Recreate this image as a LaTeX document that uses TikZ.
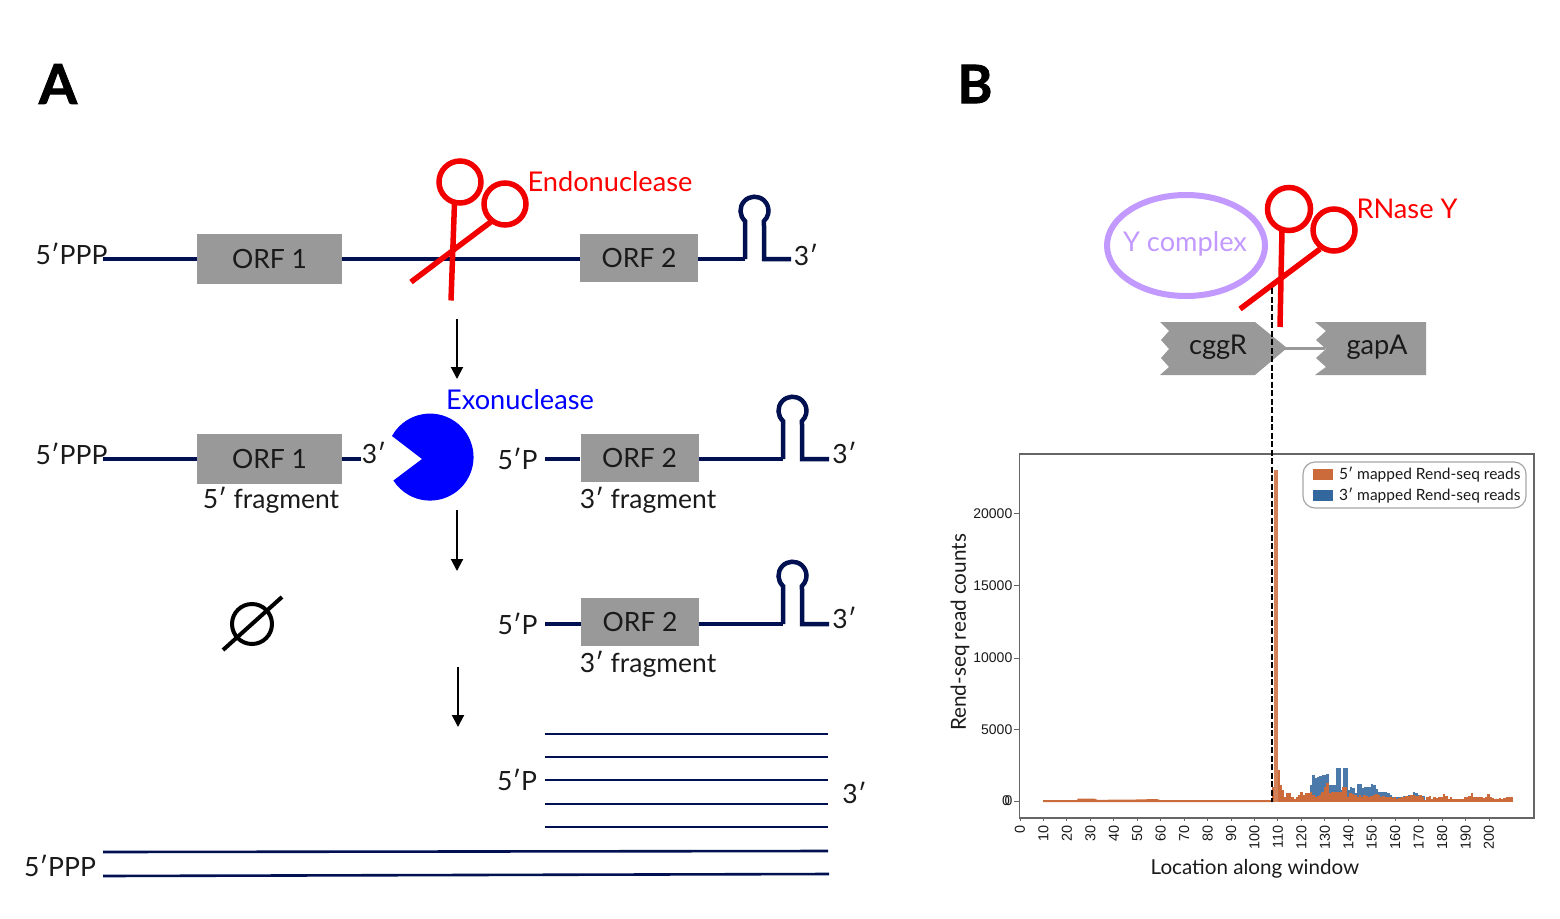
\documentclass[tikz,border=0pt]{standalone}
\usepackage{fontspec}
\setmainfont{Lato}
\newfontfamily\plotfont{Liberation Sans}
\newfontfamily\heavyf[BoldFeatures={FakeBold=1.5}]{Lato}
\usetikzlibrary{arrows.meta,shapes.geometric}
\definecolor{navy}{HTML}{001050}
\definecolor{boxgray}{HTML}{999999}
\definecolor{purp}{HTML}{C299FF}
\definecolor{oran}{HTML}{CB6B3C}
\definecolor{blu}{HTML}{33689E}
\definecolor{axisgray}{HTML}{666666}
\definecolor{inkc}{HTML}{1A1A1A}
\tikzset{
  lab/.style={font=\fontsize{26.5}{30}\selectfont,text=inkc,inner sep=0pt},
  biglab/.style={font=\fontsize{27.2}{30}\selectfont,inner sep=0pt},
  orfbox/.style={fill=boxgray,draw=none,font=\fontsize{26.5}{30}\selectfont,text=inkc,inner sep=0pt,minimum width=118pt,minimum height=48pt},
  rna/.style={draw=navy,line width=4.5pt},
  thinrna/.style={draw=navy,line width=2.6pt},
  flow/.style={draw=black,line width=2pt,-{Triangle[length=12pt,width=12pt]}},
  scis/.style={draw=red!95!black,line width=5.5pt},
  gene/.style={fill=boxgray,draw=none},
  ytk/.style={font=\plotfont\fontsize{14}{16}\selectfont,inner sep=0pt,anchor=east,text=inkc},
  xtk/.style={font=\plotfont\fontsize{14.4}{16}\selectfont,inner sep=0pt,anchor=east,rotate=90,text=inkc},
  axln/.style={draw=axisgray,line width=1.6pt},
  leg/.style={font=\fontsize{15.5}{18}\selectfont,inner sep=0pt,anchor=west,text=inkc},
  stemloop/.pic={
    \draw[rna,line cap=butt,line join=miter] (0,0) -- (0,-38) arc[start angle=227.3,end angle=-47.3,radius=14pt] -- (19,0) -- (46,0);
  }
}
\begin{document}
\begin{tikzpicture}[x=1pt,y=-1pt]
\useasboundingbox (0,0) rectangle (1560,918);
% panel letters
\node[font=\heavyf\fontsize{55}{58}\selectfont\bfseries,inner sep=0pt,text=black] (pa) at (58,84) {A};
\node[font=\heavyf\fontsize{53}{58}\selectfont\bfseries,inner sep=0pt,text=black] (pb) at (975,84) {B};
% ROW 1
\node[lab] (r1five) at (71.5,254) {5′PPP};
\coordinate (r1s) at (103,259);
\node[orfbox,minimum width=145pt,minimum height=50pt] (o1a) at (269.5,258.5) {ORF 1};
\node[orfbox] (o2a) at (639,258) {ORF 2};
\draw[rna] (r1s) -- (r1s-|o1a.west);
\draw[rna] (r1s-|o1a.east) -- (r1s-|o2a.west);
\coordinate (r1st) at (745,259);
\draw[rna] (r1s-|o2a.east) -- (r1st);
\pic at (r1st) {stemloop};
\node[lab] (r1three) at (806,255) {3′};
% scissors A
\node[circle,scis,minimum size=42pt,inner sep=0pt] (sa1) at (460,182) {};
\node[circle,scis,minimum size=42pt,inner sep=0pt] (sa2) at (505,204) {};
\coordinate (sa1e) at (451,300.5);
\coordinate (sa2e) at (411,282);
\draw[scis] (454.5,203) -- (sa1e);
\draw[scis] (492,221) -- (sa2e);
\node[biglab,text=red] (endo) at (610,182) {Endonuclease};
\coordinate (ar1a) at (457,319); \coordinate (ar1b) at (457,379);
\draw[flow] (ar1a) -- (ar1b);
% ROW 2
\node[lab] (r2five) at (71.5,454) {5′PPP};
\coordinate (r2s) at (103,459);
\node[orfbox,minimum width=145pt,minimum height=50pt] (o1b) at (269.5,459) {ORF 1};
\coordinate (r2e) at (361,459);
\draw[rna] (r2s) -- (r2s-|o1b.west);
\draw[rna] (r2e-|o1b.east) -- (r2e);
\node[lab] (r2three) at (374,453) {3′};
\node[lab] (f5) at (271,500.5) {5′ fragment};
\fill[blue] (392,436) arc[start angle=151,end angle=-147.4,radius=43.5pt] -- (422,459) -- cycle;
\node[biglab,text=blue] (exo) at (520,400) {Exonuclease};
\node[lab] (r2p) at (517.5,459) {5′P};
\coordinate (r2ps) at (545,459);
\node[orfbox] (o2b) at (639.5,458) {ORF 2};
\draw[rna] (r2ps) -- (r2ps-|o2b.west);
\coordinate (r2st) at (783,459);
\draw[rna] (r2ps-|o2b.east) -- (r2st);
\pic at (r2st) {stemloop};
\node[lab] (r2t3) at (844.5,453) {3′};
\node[lab] (f3) at (648,500.5) {3′ fragment};
\coordinate (ar2a) at (457,510); \coordinate (ar2b) at (457,571);
\draw[flow] (ar2a) -- (ar2b);
% ROW 3
\node[draw=black,circle,line width=4pt,minimum size=40pt,inner sep=0pt] (empty) at (252,624) {};
\coordinate (emp1) at (223,650); \coordinate (emp2) at (282,597);
\draw[black,line width=4pt] (emp1) -- (emp2);
\node[lab] (r3p) at (517.5,624) {5′P};
\coordinate (r3ps) at (545,624);
\node[orfbox] (o2c) at (640,622) {ORF 2};
\draw[rna] (r3ps) -- (r3ps-|o2c.west);
\coordinate (r3st) at (783,624);
\draw[rna] (r3ps-|o2c.east) -- (r3st);
\pic at (r3st) {stemloop};
\node[lab] (r3t3) at (844.5,618) {3′};
\node[lab] (f3b) at (648,664.5) {3′ fragment};
\coordinate (ar3a) at (458,667); \coordinate (ar3b) at (458,727);
\draw[flow] (ar3a) -- (ar3b);
% ROW 4
\foreach \yy in {734,757,780,804,827}{
  \coordinate (la) at (545,\yy); \coordinate (lb) at (828,\yy);
  \draw[thinrna] (la) -- (lb);
}
\coordinate (lc) at (103,852); \coordinate (ld) at (828,851);
\coordinate (le) at (103,876); \coordinate (lf) at (829,874);
\draw[thinrna] (lc) -- (ld);
\draw[thinrna] (le) -- (lf);
\node[lab] (r4p) at (517,780) {5′P};
\node[lab] (r4t) at (854.5,793) {3′};
\node[lab] (r4f) at (60,866) {5′PPP};
% PANEL B top
\node[ellipse,draw=purp,line width=6pt,minimum width=158pt,minimum height=101pt,inner sep=0pt] (yc) at (1186,245.5) {};
\node[biglab,text=purp] (yct) at (1185,244) {Y complex};
\node[circle,scis,minimum size=43pt,inner sep=0pt] (sb1) at (1289,209) {};
\node[circle,scis,minimum size=42pt,inner sep=0pt] (sb2) at (1334,230) {};
\coordinate (sb1e) at (1280,327);
\coordinate (sb2e) at (1240,309);
\draw[scis] (1282,230) -- (sb1e);
\draw[scis] (1320,249) -- (sb2e);
\node[biglab,text=red] (rny) at (1407,209) {RNase Y};
\fill[gene] (1160,322) -- (1255,322) -- (1287,348) -- (1255,375) -- (1160,375) -- (1169,367) -- (1161,358) -- (1169,349) -- (1161,340) -- (1169,331) -- cycle;
\fill[gene] (1315,322) -- (1426,322) -- (1426,375) -- (1315,375) -- (1326,367) -- (1316,358) -- (1326,349) -- (1316,340) -- (1326,331) -- cycle;
\coordinate (gl1) at (1285,348); \coordinate (gl2) at (1325,348);
\draw[boxgray,line width=3pt] (gl1) -- (gl2);
\node[biglab,text=inkc] (cg) at (1218,347.5) {cggR};
\node[biglab,text=inkc] (ga) at (1377,347.5) {gapA};
% PLOT
\draw[axln] (1019.5,454) rectangle (1534,818);
\foreach \v in {0,10,...,200}{
  \pgfmathsetmacro{\xp}{1020+2.345*\v}
  \draw[axisgray,line width=1pt] (\xp,818) -- (\xp,821);
  \node[xtk] at (\xp,825.5) {\v};
}
\foreach \v/\yp in {0/801,5000/729.5,10000/658,15000/585.5,20000/513.5}{
  \draw[axisgray,line width=1pt] (1014,\yp) -- (1019,\yp);
  \node[ytk] at (1012.5,\yp) {\v};
}
\node[ytk] at (1010,801) {0};
% left baseline
\fill[oran] (1043,800) -- (1077,800) -- (1078,798.5) -- (1094,798.5) -- (1098,800) -- (1118,799.5) -- (1136,799.5) -- (1157,799) -- (1160,800) -- (1272,800) -- (1272,802) -- (1043,802) -- cycle;
% blue series: bars from zoomed crop
\foreach \h [count=\i from 0] in {135,105,115,112,108,105,104,103,135,135,135,85,85,150,85,85,150,140,145,160,132,132,145,140,140,140,133,135,148,155,155,155,155,158,165,170,172,172,172,170,168,168,165,165,156,160,165,168,168}{
  \pgfmathsetmacro{\bx}{1240+(210+7*\i)/3}
  \pgfmathsetmacro{\by}{740+\h/3}
  \fill[blu!88!white] (\bx,\by) rectangle (\bx+2.7,801);
}
% orange series
\foreach \h [count=\i from 0] in {140,90,90,135,150,170,158,160,172,177,170,165,157,165,158,158,155,165,170,168,165,155,140,130,160,155,155,155,155,155,140,140,170,160,162,165,172,165,170,165,168,172,168,165,162,165,170,168,172,170,172,175,172,176,175,172,170,168,168,165,165,167,168,165,170,180,170,168,178,172,175,172,172,162,168,178,172,176,177,176,176,176,172,170,168,158,172,170,172,172,175,172,162,172,174,176,178,175,176,175,170,170,172}{
  \pgfmathsetmacro{\bx}{1240+(97+7*\i)/3}
  \pgfmathsetmacro{\by}{740+\h/3}
  \fill[oran] (\bx,\by) rectangle (\bx+2.7,802);
}
\fill[oran!85!white] (1274.3,470) rectangle (1278,802);
% dashed line
\coordinate (dash1) at (1272,288); \coordinate (dash2) at (1272,802);
\draw[black,line width=1.3pt,dash pattern=on 6pt off 2.5pt] (dash1) -- (dash2);
% legend
\draw[draw=black!35,fill=white,line width=1.2pt,rounded corners=12pt] (1303,462) rectangle (1526,508);
\fill[oran] (1313,469) rectangle (1333,480);
\fill[blu] (1313,490) rectangle (1333,501);
\node[leg] (l1) at (1339,475) {5′ mapped Rend-seq reads};
\node[leg] (l2) at (1339,496) {3′ mapped Rend-seq reads};
\node[inner sep=0pt,rotate=90,font=\fontsize{20.7}{24}\selectfont,text=inkc] (yl) at (960,632.5) {Rend-seq read counts};
\node[inner sep=0pt,font=\fontsize{20.6}{24}\selectfont,text=inkc] (xl) at (1255,869) {Location along window};
\end{tikzpicture}
\end{document}
